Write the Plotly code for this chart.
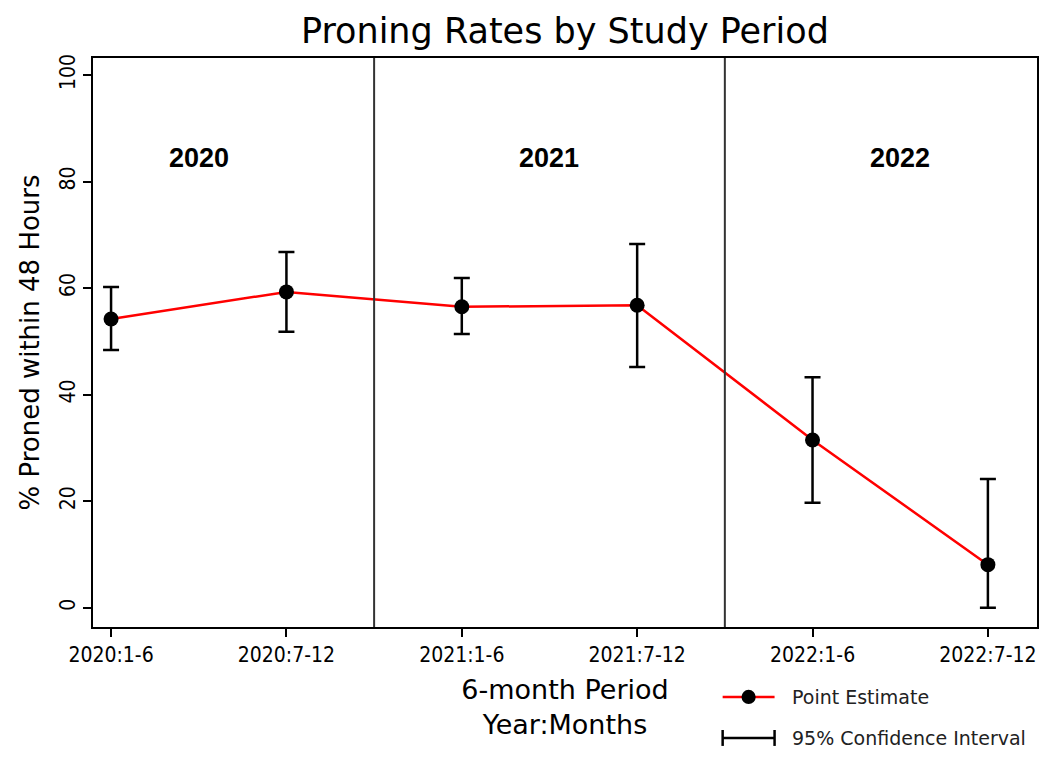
import plotly.graph_objects as go

periods = ["2020:1-6", "2020:7-12", "2021:1-6", "2021:7-12", "2022:1-6", "2022:7-12"]
estimate = [54.2, 59.3, 56.5, 56.8, 31.5, 8.1]
ci_upper = [60.2, 66.8, 61.9, 68.3, 43.3, 24.2]
ci_lower = [48.4, 51.8, 51.4, 45.2, 19.7, 0.0]
year_labels = ["2020", "2021", "2022"]
year_label_pos = [0.5, 2.5, 4.5]
year_label_y = [84.5, 84.5, 84.5]
divider_pos = [1.5, 3.5]

xs = list(range(len(periods)))
err_plus = [u - e for u, e in zip(ci_upper, estimate)]
err_minus = [e - l for e, l in zip(estimate, ci_lower)]

FONT = "DejaVu Sans"
COND = "DejaVu Sans Condensed, DejaVu Sans"

fig = go.Figure()

fig.add_trace(go.Scatter(
    x=xs, y=estimate, mode="lines+markers",
    line=dict(color="#ff0000", width=2.5),
    marker=dict(color="black", size=15),
    error_y=dict(type="data", symmetric=False, array=err_plus, arrayminus=err_minus,
                 color="black", thickness=2.5, width=8),
    showlegend=False, hoverinfo="skip",
))

for d in divider_pos:
    fig.add_shape(type="line", xref="x", yref="paper", x0=d, x1=d, y0=0, y1=1,
                  line=dict(color="#333333", width=2))

for lbl, px, py in zip(year_labels, year_label_pos, year_label_y):
    fig.add_annotation(x=px, y=py, xref="x", yref="y", text="<b>" + lbl + "</b>",
                       showarrow=False, font=dict(family="Liberation Sans, Arial", size=27, color="black"))

# manual legend
lx0, lx1 = 0.667, 0.722
ly1, ly2 = -0.123, -0.195
fig.add_shape(type="line", xref="paper", yref="paper", x0=lx0, x1=lx1, y0=ly1, y1=ly1,
              line=dict(color="#ff0000", width=2.5))
fig.add_shape(type="circle", xref="paper", yref="paper", x0=(lx0+lx1)/2 - 0.0075, x1=(lx0+lx1)/2 + 0.0075,
              y0=ly1 - 0.0125, y1=ly1 + 0.0125, fillcolor="black", line=dict(color="black", width=0))
fig.add_shape(type="line", xref="paper", yref="paper", x0=lx0, x1=lx1, y0=ly2, y1=ly2,
              line=dict(color="black", width=2.5))
for xx in (lx0, lx1):
    fig.add_shape(type="line", xref="paper", yref="paper", x0=xx, x1=xx, y0=ly2 - 0.014, y1=ly2 + 0.014,
                  line=dict(color="black", width=2.5))
fig.add_annotation(xref="paper", yref="paper", x=0.738, y=ly1, text="Point Estimate",
                   showarrow=False, xanchor="left", yanchor="middle",
                   font=dict(family=FONT, size=19, color="#222222"))
fig.add_annotation(xref="paper", yref="paper", x=0.738, y=ly2, text="95% Confidence Interval",
                   showarrow=False, xanchor="left", yanchor="middle",
                   font=dict(family=FONT, size=19, color="#222222"))

fig.update_layout(
    width=1050, height=761,
    margin=dict(l=93, r=13, t=58, b=134),
    paper_bgcolor="white", plot_bgcolor="white",
    title=dict(text="Proning Rates by Study Period", x=0.538, xanchor="center", y=0.96, yanchor="middle",
               font=dict(family=FONT, size=35, color="black")),
    xaxis=dict(
        tickmode="array", tickvals=xs, ticktext=periods,
        range=[-0.103, 5.28], showgrid=False, zeroline=False,
        showline=True, linecolor="black", linewidth=2, mirror=True,
        ticks="outside", ticklen=8, tickwidth=1.5, tickcolor="black",
        tickfont=dict(family=COND, size=21, color="black"),
        automargin=False,
        title=dict(text="6-month Period<br>Year:Months", font=dict(family=FONT, size=27, color="black"), standoff=14),
    ),
    yaxis=dict(
        range=[-3.6, 103.2], tickvals=[0, 20, 40, 60, 80, 100],
        showgrid=False, zeroline=False,
        showline=True, linecolor="black", linewidth=2, mirror=True,
        ticks="outside", ticklen=8, tickwidth=1.5, tickcolor="black",
        tickangle=-90, automargin=False,
        tickfont=dict(family=COND, size=21, color="black"),
        title=dict(text="% Proned within 48 Hours", font=dict(family=FONT, size=26, color="black"), standoff=8),
    ),
)

fig.write_html("out.html", config={"displayModeBar": False},
               post_script="document.body.style.margin='0';")
